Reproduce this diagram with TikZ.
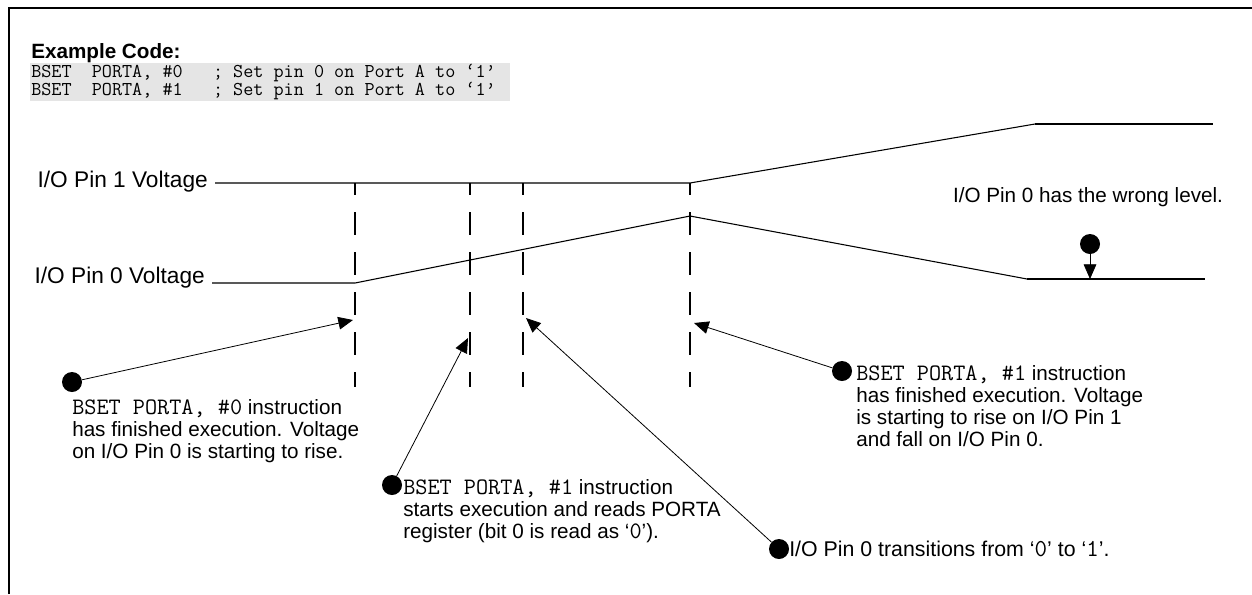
\documentclass[tikz,border=0pt]{standalone}
\usepackage{fontspec}
\setmainfont{Liberation Sans}
\setmonofont{Latin Modern Mono}[Scale=1.14]
\usetikzlibrary{arrows.meta}

\tikzset{
  lbl/.style={inner sep=0pt, align=left, font=\fontsize{15.5}{16.5}\selectfont},
  codeline/.style={inner sep=0pt, anchor=west, font=\fontsize{12.9}{13}\ttfamily},
  dot/.style={circle, fill=black, inner sep=0pt, minimum size=15pt},
  pointer/.style={-{Triangle[length=11pt,width=9.5pt]}, line width=0.6pt},
  marker/.style={line width=1.5pt, dash pattern=on 17.25pt off 12.75pt, dash phase=8.25pt},
  wave/.style={line width=0.8pt},
  level/.style={line width=1.3pt},
}

\begin{document}
\begin{tikzpicture}[x=0.75pt,y=0.75pt,yscale=-1,xscale=1]
\useasboundingbox (0,0) rectangle (1252,594);

%Frame
\draw [line width=1.5pt] (9,594) -- (9,8) -- (1252,8) ;

%Code box
\fill [black!10] (30,63) rectangle (510,101) ;
% Text Node
\node [inner sep=0pt, anchor=base west, font=\fontsize{15.5}{16.5}\bfseries] (title) at (31,58) {Example Code:};
\node [codeline] (code0) at (31,73) {BSET\ \ PORTA,\ \#0\ \ \ ;\ Set\ pin\ 0\ on\ Port\ A\ to\ ‘1’};
\node [codeline] (code1) at (31,91) {BSET\ \ PORTA,\ \#1\ \ \ ;\ Set\ pin\ 1\ on\ Port\ A\ to\ ‘1’};

% Text Node
\node [lbl, anchor=base east, font=\fontsize{17}{18}\selectfont] (pin1) at (208,187) {I/O Pin 1 Voltage};
\node [lbl, anchor=base east, font=\fontsize{17}{18}\selectfont] (pin0) at (205,283) {I/O Pin 0 Voltage};

%Straight Lines
\draw [wave] (215,183) -- (690,183) -- (1035,124) ;
\draw [level] (1035,124) -- (1213,124) ;
\draw [wave] (212,283) -- (355,283) -- (690,216) -- (1027,279) ;
\draw [level] (1027,279) -- (1205,279) ;

%Dashed markers
\foreach \x in {355,470,523,690}
  \draw [marker] (\x,183) -- (\x,387) ;

%Arrow tips
\coordinate (tip1) at (353,320);
\coordinate (tip2) at (468,338);
\coordinate (tip3) at (526,318);
\coordinate (tip4) at (694,323);
\coordinate (tip5) at (1090,279);

%Dots
\node [dot] (dot1) at (72,382) {};
\node [dot] (dot2) at (392,485) {};
\node [dot] (dot3) at (779,549) {};
\node [dot] (dot4) at (842,371) {};
\node [dot] (dot5) at (1090,244) {};

\draw [pointer] (dot1) -- (tip1) ;
\draw [pointer] (dot2) -- (tip2) ;
\draw [pointer] (dot3) -- (tip3) ;
\draw [pointer] (dot4) -- (tip4) ;
\draw [pointer] (dot5) -- (tip5) ;

% Text Node
\node [lbl, anchor=north west] (note1) at (72,399) {\texttt{BSET PORTA, \#0} instruction\\has finished execution. Voltage\\on I/O Pin 0 is starting to rise.};
\node [lbl, anchor=north west] (note2) at (403,479) {\texttt{BSET PORTA, \#1} instruction\\starts execution and reads PORTA\\register (bit 0 is read as ‘\texttt{0}’).};
\node [lbl, anchor=west, font=\fontsize{16}{17}\selectfont] (note3) at (789,549) {I/O Pin 0 transitions from ‘\texttt{0}’ to ‘\texttt{1}’.};
\node [lbl, anchor=north west] (note4) at (856,365) {\texttt{BSET PORTA, \#1} instruction\\has finished execution. Voltage\\is starting to rise on I/O Pin 1\\and fall on I/O Pin 0.};
\node [lbl] (note5) at (1088,197) {I/O Pin 0 has the wrong level.};

\end{tikzpicture}
\end{document}
